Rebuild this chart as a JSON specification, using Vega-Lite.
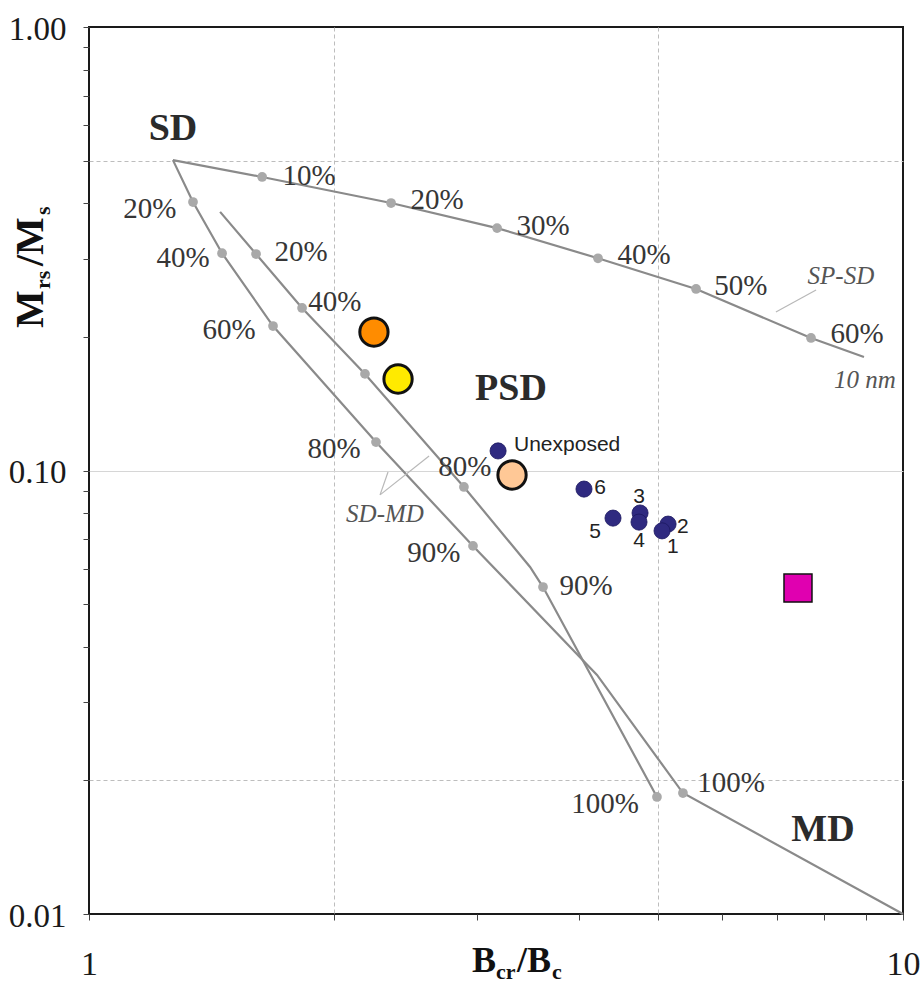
{
  "$schema": "https://vega.github.io/schema/vega-lite/v6.json",
  "width": 814,
  "height": 887,
  "autosize": {"type": "none"},
  "padding": {"left": 89, "top": 27, "right": 19, "bottom": 71},
  "background": "white",
  "config": {"view": {"stroke": "#1a1a1a", "strokeWidth": 2}},
  "datasets": {
    "curves": [
      {"curve": "SP-SD", "ord": 0, "x": 1.268, "y": 0.501},
      {"curve": "SP-SD", "ord": 1, "x": 1.632, "y": 0.459},
      {"curve": "SP-SD", "ord": 2, "x": 2.35, "y": 0.401},
      {"curve": "SP-SD", "ord": 3, "x": 3.172, "y": 0.352},
      {"curve": "SP-SD", "ord": 4, "x": 4.22, "y": 0.301},
      {"curve": "SP-SD", "ord": 5, "x": 5.569, "y": 0.2566},
      {"curve": "SP-SD", "ord": 6, "x": 7.709, "y": 0.199},
      {"curve": "SP-SD", "ord": 7, "x": 8.955, "y": 0.1803},
      {"curve": "SD-MD outer", "ord": 0, "x": 1.268, "y": 0.501},
      {"curve": "SD-MD outer", "ord": 1, "x": 1.342, "y": 0.403},
      {"curve": "SD-MD outer", "ord": 2, "x": 1.457, "y": 0.309},
      {"curve": "SD-MD outer", "ord": 3, "x": 1.683, "y": 0.2117},
      {"curve": "SD-MD outer", "ord": 4, "x": 2.252, "y": 0.1159},
      {"curve": "SD-MD outer", "ord": 5, "x": 2.963, "y": 0.0676},
      {"curve": "SD-MD outer", "ord": 6, "x": 4.208, "y": 0.0346},
      {"curve": "SD-MD outer", "ord": 7, "x": 5.366, "y": 0.01874},
      {"curve": "SD-MD outer", "ord": 8, "x": 10, "y": 0.01},
      {"curve": "SD-MD inner", "ord": 0, "x": 1.449, "y": 0.383},
      {"curve": "SD-MD inner", "ord": 1, "x": 1.604, "y": 0.3077},
      {"curve": "SD-MD inner", "ord": 2, "x": 1.827, "y": 0.2325},
      {"curve": "SD-MD inner", "ord": 3, "x": 2.183, "y": 0.1651},
      {"curve": "SD-MD inner", "ord": 4, "x": 2.888, "y": 0.0918},
      {"curve": "SD-MD inner", "ord": 5, "x": 3.482, "y": 0.0606},
      {"curve": "SD-MD inner", "ord": 6, "x": 3.612, "y": 0.0546},
      {"curve": "SD-MD inner", "ord": 7, "x": 4.986, "y": 0.01836}
    ],
    "leaders": [
      {"seg": "a", "ord": 0, "x": 6.98, "y": 0.2277},
      {"seg": "a", "ord": 1, "x": 7.82, "y": 0.2553},
      {"seg": "b", "ord": 0, "x": 2.278, "y": 0.0881},
      {"seg": "b", "ord": 1, "x": 2.33, "y": 0.0992},
      {"seg": "c", "ord": 0, "x": 2.278, "y": 0.0881},
      {"seg": "c", "ord": 1, "x": 2.617, "y": 0.1078}
    ],
    "dots": [
      {"x": 1.632, "y": 0.459}, {"x": 2.35, "y": 0.401}, {"x": 3.172, "y": 0.352},
      {"x": 4.22, "y": 0.301}, {"x": 5.569, "y": 0.2566}, {"x": 7.709, "y": 0.199},
      {"x": 1.342, "y": 0.403}, {"x": 1.457, "y": 0.309}, {"x": 1.683, "y": 0.2117},
      {"x": 2.252, "y": 0.1159}, {"x": 2.963, "y": 0.0676}, {"x": 5.366, "y": 0.01874},
      {"x": 1.604, "y": 0.3077}, {"x": 1.827, "y": 0.2325}, {"x": 2.183, "y": 0.1651},
      {"x": 2.888, "y": 0.0918}, {"x": 3.612, "y": 0.0546}, {"x": 4.986, "y": 0.01836}
    ],
    "pct": [
      {"label": "10%", "x": 1.864, "y": 0.4613},
      {"label": "20%", "x": 2.677, "y": 0.4073},
      {"label": "30%", "x": 3.612, "y": 0.3558},
      {"label": "40%", "x": 4.807, "y": 0.3061},
      {"label": "50%", "x": 6.323, "y": 0.2606},
      {"label": "60%", "x": 8.78, "y": 0.2032},
      {"label": "20%", "x": 1.188, "y": 0.3888},
      {"label": "40%", "x": 1.305, "y": 0.3014},
      {"label": "60%", "x": 1.486, "y": 0.2074},
      {"label": "80%", "x": 2.0, "y": 0.1118},
      {"label": "90%", "x": 2.653, "y": 0.0652},
      {"label": "100%", "x": 6.149, "y": 0.01974},
      {"label": "20%", "x": 1.822, "y": 0.3109},
      {"label": "40%", "x": 2.005, "y": 0.2399},
      {"label": "80%", "x": 2.896, "y": 0.1018},
      {"label": "90%", "x": 4.079, "y": 0.0549},
      {"label": "100%", "x": 4.305, "y": 0.0177}
    ],
    "regions": [
      {"label": "SD", "x": 1.268, "y": 0.5889},
      {"label": "PSD", "x": 3.299, "y": 0.1527},
      {"label": "MD", "x": 7.975, "y": 0.01547}
    ],
    "notes": [
      {"label": "SP-SD", "x": 8.389, "y": 0.2746},
      {"label": "10 nm", "x": 8.981, "y": 0.16},
      {"label": "SD-MD", "x": 2.31, "y": 0.0798}
    ],
    "samples": [
      {"sample": "A", "x": 2.239, "y": 0.2052},
      {"sample": "B", "x": 2.397, "y": 0.1608},
      {"sample": "C", "x": 3.309, "y": 0.0977}
    ],
    "exposed": [
      {"id": "Unexposed", "x": 3.181, "y": 0.1107},
      {"id": "6", "x": 4.056, "y": 0.0908},
      {"id": "5", "x": 4.403, "y": 0.0781},
      {"id": "3", "x": 4.753, "y": 0.0802},
      {"id": "4", "x": 4.739, "y": 0.0765},
      {"id": "2", "x": 5.145, "y": 0.0757},
      {"id": "1", "x": 5.058, "y": 0.0731}
    ],
    "exposedLabels": [
      {"label": "Unexposed", "x": 3.867, "y": 0.1142},
      {"label": "6", "x": 4.244, "y": 0.0913},
      {"label": "3", "x": 4.739, "y": 0.0872},
      {"label": "5", "x": 4.184, "y": 0.0727},
      {"label": "4", "x": 4.739, "y": 0.0694},
      {"label": "2", "x": 5.366, "y": 0.0746},
      {"label": "1", "x": 5.216, "y": 0.0672}
    ],
    "reference": [
      {"x": 7.43, "y": 0.0543}
    ]
  },
  "encoding": {
    "x": {
      "field": "x", "type": "quantitative",
      "scale": {"type": "log", "domain": [1, 10]},
      "axis": {
        "title": null,
        "values": [1, 2, 3, 4, 5, 6, 7, 8, 9, 10],
        "domain": false,
        "tickSize": 6, "tickColor": "#444", "tickWidth": 1,
        "labelExpr": "datum.value == 1 ? '1' : (datum.value == 10 ? '10' : '')",
        "labelFont": "Liberation Serif", "labelFontSize": 34, "labelColor": "#1a1a1a",
        "labelBaseline": "alphabetic", "labelPadding": 54,
        "labelFlush": false, "labelOverlap": false, "labelBound": false,
        "grid": true, "gridColor": "#bdbdbd", "gridDash": [4, 3], "gridWidth": 1,
        "gridOpacity": {"condition": {"test": "datum.value == 2 || datum.value == 5", "value": 1}, "value": 0}
      }
    },
    "y": {
      "field": "y", "type": "quantitative",
      "scale": {"type": "log", "domain": [0.01, 1]},
      "axis": {
        "title": null,
        "values": [0.01, 0.02, 0.03, 0.04, 0.05, 0.06, 0.07, 0.08, 0.09, 0.1, 0.2, 0.3, 0.4, 0.5, 0.6, 0.7, 0.8, 0.9, 1],
        "domain": false,
        "tickSize": 6, "tickColor": "#444", "tickWidth": 1,
        "labelExpr": "datum.value == 1 ? '1.00' : (datum.value == 0.1 ? '0.10' : (datum.value == 0.01 ? '0.01' : ''))",
        "labelFont": "Liberation Serif", "labelFontSize": 33, "labelColor": "#1a1a1a",
        "labelPadding": 17, "labelBaseline": "middle", "labelOffset": 2,
        "labelOverlap": false, "labelBound": false, "labelFlush": false,
        "grid": true, "gridWidth": 1,
        "gridColor": {"condition": {"test": "datum.value == 0.1", "value": "#d6d6d6"}, "value": "#bdbdbd"},
        "gridDash": {"condition": {"test": "datum.value == 0.1", "value": []}, "value": [4, 3]},
        "gridOpacity": {"condition": {"test": "datum.value == 0.5 || datum.value == 0.1 || datum.value == 0.02", "value": 1}, "value": 0}
      }
    }
  },
  "layer": [
    {
      "data": {"name": "curves"},
      "mark": {"type": "line", "color": "#8a8a8a", "strokeWidth": 2.2},
      "encoding": {"detail": {"field": "curve"}, "order": {"field": "ord", "type": "quantitative"}}
    },
    {
      "data": {"name": "leaders"},
      "mark": {"type": "line", "color": "#b8b8b8", "strokeWidth": 1.2},
      "encoding": {"detail": {"field": "seg"}, "order": {"field": "ord", "type": "quantitative"}}
    },
    {
      "data": {"name": "dots"},
      "mark": {"type": "point", "filled": true, "shape": "circle", "size": 95, "color": "#a9a9a9", "opacity": 1}
    },
    {
      "data": {"name": "pct"},
      "mark": {"type": "text", "font": "Liberation Serif", "fontSize": 29, "color": "#363636", "align": "center", "baseline": "middle"},
      "encoding": {"text": {"field": "label"}}
    },
    {
      "data": {"name": "regions"},
      "mark": {"type": "text", "font": "Liberation Serif", "fontSize": 38, "fontWeight": "bold", "color": "#2b2b2b", "align": "center", "baseline": "middle"},
      "encoding": {"text": {"field": "label"}}
    },
    {
      "data": {"name": "notes"},
      "mark": {"type": "text", "font": "Liberation Serif", "fontSize": 25, "fontStyle": "italic", "color": "#555555", "align": "center", "baseline": "middle"},
      "encoding": {"text": {"field": "label"}}
    },
    {
      "data": {"name": "samples"},
      "mark": {"type": "point", "filled": true, "shape": "circle", "size": 800, "stroke": "#111111", "strokeWidth": 3, "opacity": 1},
      "encoding": {
        "fill": {"field": "sample", "type": "nominal", "scale": {"domain": ["A", "B", "C"], "range": ["#ff8c00", "#ffea00", "#ffc896"]}, "legend": null}
      }
    },
    {
      "data": {"name": "exposed"},
      "mark": {"type": "point", "filled": true, "shape": "circle", "size": 260, "color": "#2f2a80", "stroke": "#1c1860", "strokeWidth": 0.8, "opacity": 1}
    },
    {
      "data": {"name": "exposedLabels"},
      "mark": {"type": "text", "font": "Liberation Sans", "fontSize": 21, "color": "#222222", "align": "center", "baseline": "middle"},
      "encoding": {"text": {"field": "label"}}
    },
    {
      "data": {"name": "reference"},
      "mark": {"type": "point", "filled": true, "shape": "square", "size": 784, "color": "#e000b0", "stroke": "#111111", "strokeWidth": 1.5, "opacity": 1}
    },
    {
      "data": {"values": [{"t": "B", "x": 3.263, "y": 0.01}]},
      "mark": {"type": "text", "font": "Liberation Serif", "fontSize": 36, "fontWeight": "bold", "color": "#111111", "align": "left", "baseline": "alphabetic", "dx": -35, "dy": 58},
      "encoding": {"text": {"field": "t"}}
    },
    {
      "data": {"values": [{"t": "cr", "x": 3.263, "y": 0.01}]},
      "mark": {"type": "text", "font": "Liberation Serif", "fontSize": 22, "fontWeight": "bold", "color": "#111111", "align": "left", "baseline": "alphabetic", "dx": -11, "dy": 65},
      "encoding": {"text": {"field": "t"}}
    },
    {
      "data": {"values": [{"t": "/B", "x": 3.263, "y": 0.01}]},
      "mark": {"type": "text", "font": "Liberation Serif", "fontSize": 36, "fontWeight": "bold", "color": "#111111", "align": "left", "baseline": "alphabetic", "dx": 10, "dy": 58},
      "encoding": {"text": {"field": "t"}}
    },
    {
      "data": {"values": [{"t": "c", "x": 3.263, "y": 0.01}]},
      "mark": {"type": "text", "font": "Liberation Serif", "fontSize": 22, "fontWeight": "bold", "color": "#111111", "align": "left", "baseline": "alphabetic", "dx": 45, "dy": 65},
      "encoding": {"text": {"field": "t"}}
    },
    {
      "data": {"values": [{"t": "M", "x": 1, "y": 0.2983}]},
      "mark": {"type": "text", "font": "Liberation Serif", "fontSize": 40, "fontWeight": "bold", "color": "#111111", "align": "left", "baseline": "alphabetic", "angle": 270, "dx": -68, "dy": -46},
      "encoding": {"text": {"field": "t"}}
    },
    {
      "data": {"values": [{"t": "rs", "x": 1, "y": 0.2983}]},
      "mark": {"type": "text", "font": "Liberation Serif", "fontSize": 22, "fontWeight": "bold", "color": "#111111", "align": "left", "baseline": "alphabetic", "angle": 270, "dx": -29, "dy": -39},
      "encoding": {"text": {"field": "t"}}
    },
    {
      "data": {"values": [{"t": "/M", "x": 1, "y": 0.2983}]},
      "mark": {"type": "text", "font": "Liberation Serif", "fontSize": 40, "fontWeight": "bold", "color": "#111111", "align": "left", "baseline": "alphabetic", "angle": 270, "dx": -6, "dy": -46},
      "encoding": {"text": {"field": "t"}}
    },
    {
      "data": {"values": [{"t": "s", "x": 1, "y": 0.2983}]},
      "mark": {"type": "text", "font": "Liberation Serif", "fontSize": 22, "fontWeight": "bold", "color": "#111111", "align": "left", "baseline": "alphabetic", "angle": 270, "dx": 45, "dy": -39},
      "encoding": {"text": {"field": "t"}}
    }
  ]
}
